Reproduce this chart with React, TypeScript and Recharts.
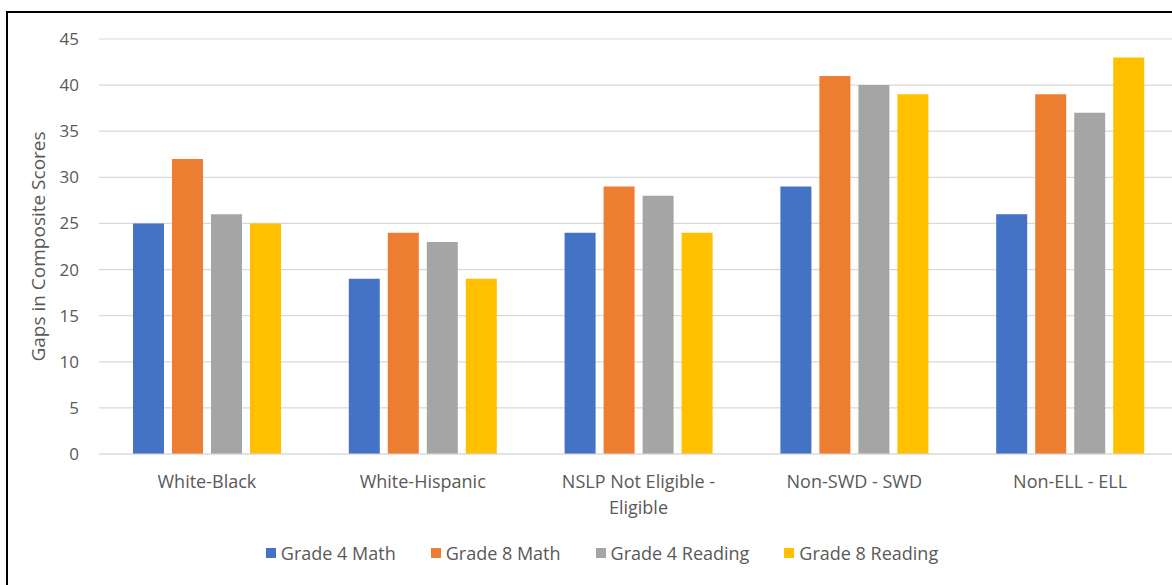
import React from "react";
import { Bar, BarChart, CartesianGrid, Label, Legend, Text, XAxis, YAxis } from "recharts";

const categories = [
  "White-Black",
  "White-Hispanic",
  "NSLP Not Eligible - Eligible",
  "Non-SWD - SWD",
  "Non-ELL - ELL",
];
const grade4Math = [25, 19, 24, 29, 26];
const grade8Math = [32, 24, 29, 41, 39];
const grade4Reading = [26, 23, 28, 40, 37];
const grade8Reading = [25, 19, 24, 39, 43];
const yTicks = [0, 5, 10, 15, 20, 25, 30, 35, 40, 45];

const SERIES = [
  { key: "g4m", name: "Grade 4 Math", color: "#4472C4" },
  { key: "g8m", name: "Grade 8 Math", color: "#ED7D31" },
  { key: "g4r", name: "Grade 4 Reading", color: "#A5A5A5" },
  { key: "g8r", name: "Grade 8 Reading", color: "#FFC000" },
];

const data = categories.map((name, i) => ({
  name,
  g4m: grade4Math[i],
  g8m: grade8Math[i],
  g4r: grade4Reading[i],
  g8r: grade8Reading[i],
}));

const FONT = "'Open Sans', sans-serif";
const TEXT = "#595959";

function CategoryTick(props: any) {
  const { x, y, payload } = props;
  return (
    <Text
      x={x}
      y={y}
      width={185}
      textAnchor="middle"
      verticalAnchor="start"
      lineHeight={26}
      fontSize={18}
      fontFamily={FONT}
      style={{ fontSize: 18, fontFamily: FONT }}
      fill={TEXT}
    >
      {payload.value}
    </Text>
  );
}

function LegendBox() {
  return (
    <div
      style={{
        display: "flex",
        justifyContent: "center",
        alignItems: "center",
        height: 30,
        paddingLeft: 26,
        fontFamily: FONT,
        fontSize: 18,
        color: TEXT,
      }}
    >
      {SERIES.map((s, i) => (
        <div key={s.key} style={{ display: "flex", alignItems: "center", marginLeft: i ? 35 : 0 }}>
          <span style={{ width: 10, height: 10, background: s.color, marginRight: 5, display: "inline-block" }} />
          <span>{s.name}</span>
        </div>
      ))}
    </div>
  );
}

export default function App() {
  return (
    <div
      style={{
        position: "fixed",
        left: 0,
        top: 0,
        width: 1172,
        height: 585,
        overflow: "hidden",
        background: "#fff",
      }}
    >
      <div
        style={{
          position: "absolute",
          left: 6,
          top: 11,
          width: 1400,
          height: 800,
          border: "2px solid #000",
          pointerEvents: "none",
        }}
      />
      <div style={{ position: "absolute", left: 0, top: 0 }}>
        <BarChart
          width={1190}
          height={585}
          data={data}
          margin={{ top: 39, right: 12, bottom: 17, left: 0 }}
          barSize={31}
          barGap={8}
        >
          <CartesianGrid vertical={false} stroke="#D9D9D9" strokeWidth={1.2} />
          <XAxis
            dataKey="name"
            height={84}
            tickLine={false}
            axisLine={{ stroke: "#D9D9D9", strokeWidth: 1.2 }}
            tickSize={0}
            tickMargin={21}
            tick={<CategoryTick />}
            interval={0}
          />
          <YAxis
            width={99}
            domain={[0, 45]}
            ticks={yTicks}
            axisLine={false}
            tickLine={false}
            tickSize={0}
            tickMargin={20}
            tick={{ fontSize: 17, fontFamily: FONT, fill: TEXT }}
          >
            <Label
              content={({ viewBox }: any) => {
                const cx = viewBox.x + 38;
                const cy = viewBox.y + viewBox.height / 2;
                return (
                  <text
                    x={cx}
                    y={cy}
                    transform={`rotate(-90, ${cx}, ${cy})`}
                    textAnchor="middle"
                    dominantBaseline="central"
                    fontSize={19}
                    fontFamily={FONT}
                    fill={TEXT}
                  >
                    Gaps in Composite Scores
                  </text>
                );
              }}
            />
          </YAxis>
          <Legend verticalAlign="bottom" content={<LegendBox />} />
          {SERIES.map((s) => (
            <Bar key={s.key} dataKey={s.key} name={s.name} fill={s.color} isAnimationActive={false} />
          ))}
        </BarChart>
      </div>
    </div>
  );
}
